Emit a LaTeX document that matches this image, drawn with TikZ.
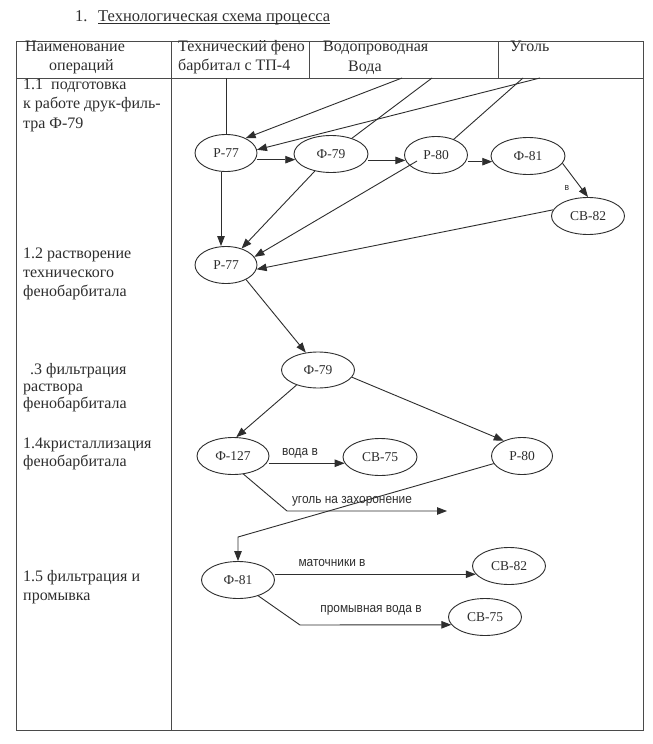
\documentclass[tikz,border=0pt]{standalone}
\usepackage{fontspec}
\setmainfont{Liberation Serif}
\newfontfamily\lblfont[FakeStretch=0.9]{Liberation Sans}
\usetikzlibrary{shapes.geometric,arrows.meta,calc}
\definecolor{ink}{HTML}{2E2E2E}
\definecolor{rule}{HTML}{4A4A4A}
\begin{document}
\begin{tikzpicture}[x=1pt,y=-1pt,
  ln/.style={draw=ink,line width=0.9pt},
  arr/.style={ln,-{Triangle[length=10pt,width=7.5pt]}},
  proc/.style={ellipse,draw=ink,line width=0.9pt,minimum width=73pt,minimum height=37pt,inner sep=0pt,
    text=ink,font=\fontsize{13.5}{15}\selectfont},
  pnode/.style={proc,minimum width=62pt},
  txt/.style={anchor=mid west,inner sep=0pt,text=ink,font=\fontsize{16}{19}\selectfont},
  ttlstyle/.style={anchor=base west,inner sep=0pt,text=ink,font=\fontsize{16.5}{19}\selectfont},
  lbl/.style={inner sep=0pt,text=ink,font=\lblfont\fontsize{13.2}{15}\selectfont},
  tab/.style={draw=rule,line width=0.9pt}]
\useasboundingbox[fill=white] (0,0) rectangle (653,744);

% title
\node[ttlstyle] (num) at (75,21) {1.};
\node[ttlstyle] (ttl) at (98,21) {Технологическая схема процесса};
\draw[draw=ink,line width=0.8pt] ([yshift=-2pt]ttl.base west) -- ([yshift=-2pt]ttl.base east);

% table
\draw[tab] (16,41) rectangle (643,730);
\draw[tab] (16,78) -- (643,78);
\draw[tab] (171,41) -- (171,730);
\draw[tab] (309,41) -- (309,78);
\draw[tab] (498,41) -- (498,78);

% header texts
\node[txt] (h1a) at (25,49) {Наименование};
\node[txt] (h1b) at (49,68) {операций};
\node[txt] (h2a) at (178,49) {Технический фено};
\node[txt] (h2b) at (178,68) {барбитал с ТП-4};
\node[txt] (h3a) at (323,49) {Водопроводная};
\node[txt] (h3b) at (348,69) {Вода};
\node[txt] (h4a) at (510,49) {Уголь};

% operation names
\node[txt] (o1a) at (23,87) {1.1\enspace подготовка};
\node[txt] (o1b) at (23,106) {к работе друк-филь-};
\node[txt] (o1c) at (23,126) {тра Ф-79};
\node[txt] (o2a) at (23,256) {1.2 растворение};
\node[txt] (o2b) at (23,275) {технического};
\node[txt] (o2c) at (23,294) {фенобарбитала};
\node[txt] (o3a) at (30,372) {.3 фильтрация};
\node[txt] (o3b) at (23,389) {раствора};
\node[txt] (o3c) at (23,406) {фенобарбитала};
\node[txt] (o4a) at (23,446) {1.4кристаллизация};
\node[txt] (o4b) at (23,464) {фенобарбитала};
\node[txt] (o5a) at (23,579) {1.5 фильтрация и};
\node[txt] (o5b) at (23,598) {промывка};

% nodes
\node[pnode] (r77a) at (226,153) {Р-77};
\node[proc,minimum width=74pt] (f79a) at (331,154) {Ф-79};
\node[pnode,minimum width=63pt] (r80a) at (436,155) {Р-80};
\node[proc,minimum width=74pt] (f81a) at (528,156) {Ф-81};
\node[proc] (cb82a) at (588,216) {СВ-82};
\node[pnode] (r77b) at (226,265) {Р-77};
\node[proc,minimum height=36pt] (f79b) at (318,370) {Ф-79};
\node[proc,minimum width=72pt] (f127) at (233,456) {Ф-127};
\node[proc,minimum width=74pt] (cb75a) at (380,457) {СВ-75};
\node[pnode,minimum width=61pt] (r80b) at (522,456) {Р-80};
\node[proc] (f81b) at (238,580) {Ф-81};
\node[proc] (cb82b) at (509,566) {СВ-82};
\node[proc] (cb75b) at (485,617) {СВ-75};

% free ends
\coordinate (t1) at (226,78);
\coordinate (w1) at (402,78);
\coordinate (w2) at (432,78);
\coordinate (c1) at (523,78);
\coordinate (c2) at (540,78);
\coordinate (u1) at (287,511);
\coordinate (u2) at (447,511);
\coordinate (d1) at (238,537);
\coordinate (p1) at (300,625);

% connectors, stage 1.1
\draw[ln] (t1) -- (r77a.north);
\draw[arr] (w1) -- (r77a.37);
\draw[ln] (w2) -- (f79a);
\draw[ln] (c1) -- (r80a);
\draw[arr] (c2) -- (r77a.6);
\draw[arr] (r77a.east |- f79a.189) -- (f79a.189);
\draw[arr] (f79a.east |- r80a.190) -- (r80a.190);
\draw[arr] (r80a.east |- f81a.189) -- (f81a.189);
\draw[arr] (f81a.-12) -- (cb82a.north);
\node[lbl,font=\lblfont\fontsize{9.5}{10}\selectfont] (lv) at (567,188) {в};

% stage 1.2
\draw[arr] ([xshift=-5pt]r77a.south) -- ([xshift=-5pt]r77b.north);
\draw[arr] (f79a) -- (r77b);
\draw[arr] ([xshift=-19pt,yshift=-6pt]r80a.center) -- (r77b.16);
\draw[arr] (cb82a.170) -- (r77b.-8);

% stage 1.3
\draw[arr] (r77b.-36) -- (f79b.125);
\draw[arr] (f79b.-145) -- (f127.80);
\draw[arr] (f79b.-12) -- (r80b.140);

% stage 1.4
\draw[arr] (f127.east |- cb75a.190) -- (cb75a.190);
\node[lbl] (lw) at (300,453) {вода в};
\draw[arr] (f127.-60) -- (u1) -- (u2);
\node[lbl] (lc) at (352,501) {уголь на захоронение};
\draw[arr] (r80b.-165) -- (d1) -- (f81b.north);

% stage 1.5
\draw[arr] (f81b.east |- cb82b.194) -- (cb82b.194);
\node[lbl] (lm) at (332,563) {маточники в};
\draw[arr] (f81b.-38) -- (p1) -- (cb75b.193);
\node[lbl] (lp) at (371,610) {промывная вода в};
\end{tikzpicture}
\end{document}
